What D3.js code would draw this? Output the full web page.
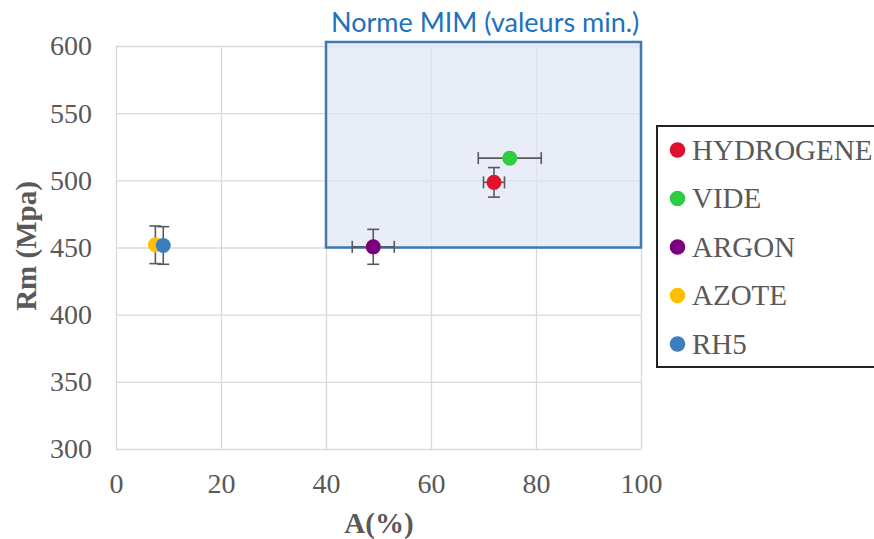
<!DOCTYPE html>
<html><head><meta charset="utf-8">
<script src="https://cdn.jsdelivr.net/npm/d3@7"></script>
<style>body{margin:0;background:#fff}svg{display:block}</style>
</head><body>
<svg id="c" width="874" height="539"></svg>
<script>
const series = ["HYDROGENE","VIDE","ARGON","AZOTE","RH5"];
const colors = ["#e0102f","#2ecc40","#7a0080","#ffc000","#3b7dbd"];
const xVals = [72, 75, 49, 7.5, 9];
const yVals = [498.5, 516.5, 450.5, 452, 451.5];
const xErr = [2, 6, 4, 0, 0];
const yErr = [11, 0, 13, 14, 14];
const xTicks = [0,20,40,60,80,100];
const yTicks = [300,350,400,450,500,550,600];
const normeX = [40, 100];
const normeY = [450, 603];
const normeLabel = "Norme MIM (valeurs min.)";
const xTitle = "A(%)", yTitle = "Rm (Mpa)";

const svg = d3.select("#c");
const x = d3.scaleLinear().domain([0,100]).range([116,641]);
const y = d3.scaleLinear().domain([300,600]).range([449,46]);
const grid = "#d9d9d9", txt = "#595959";
const serif = "'Liberation Serif','Times New Roman',serif";

// gridlines
svg.append("g").attr("transform","translate(0,449)")
  .call(d3.axisBottom(x).tickValues(xTicks).tickSize(-(449-46)).tickFormat(""))
  .call(g=>{g.select(".domain").remove();g.selectAll("line").attr("stroke",grid).attr("stroke-width",1.3);});
svg.append("g").attr("transform","translate(116,0)")
  .call(d3.axisLeft(y).tickValues(yTicks).tickSize(-(641-116)).tickFormat(""))
  .call(g=>{g.select(".domain").remove();g.selectAll("line").attr("stroke",grid).attr("stroke-width",1.3);});

// norme box
svg.append("rect").attr("x",x(normeX[0])).attr("y",y(normeY[1]))
  .attr("width",x(normeX[1])-x(normeX[0])).attr("height",y(normeY[0])-y(normeY[1]))
  .attr("fill","#dfe5f3").attr("fill-opacity",0.7).attr("stroke","#3f79b0").attr("stroke-width",2.5);
svg.append("text").attr("x",x(normeX[0])+5).attr("y",y(normeY[1])-10)
  .attr("font-family","Lato, 'Open Sans', sans-serif").attr("font-size",27).attr("fill","#2271bd")
  .text(normeLabel);

// axis tick labels
svg.append("g").attr("transform","translate(0,449)")
  .call(d3.axisBottom(x).tickValues(xTicks).tickSize(0).tickPadding(24))
  .call(g=>{g.select(".domain").remove();g.selectAll("text").attr("font-family",serif).attr("font-size",28).attr("fill",txt);});
svg.append("g").attr("transform","translate(116,0)")
  .call(d3.axisLeft(y).tickValues(yTicks).tickSize(0).tickPadding(24))
  .call(g=>{g.select(".domain").remove();g.selectAll("text").attr("font-family",serif).attr("font-size",28).attr("fill",txt);});

svg.append("text").attr("x",379).attr("y",533).attr("text-anchor","middle")
  .attr("font-family",serif).attr("font-weight","bold").attr("font-size",29).attr("fill",txt).text(xTitle);
svg.append("text").attr("transform","translate(36,246) rotate(-90)").attr("text-anchor","middle")
  .attr("font-family",serif).attr("font-weight","bold").attr("font-size",29).attr("fill",txt).text(yTitle);

// error bars
const eb = svg.append("g").attr("stroke","#595959").attr("stroke-width",1.6);
const cap = 6;
series.forEach((s,i)=>{
  const cx=x(xVals[i]), cy=y(yVals[i]);
  if(yErr[i]>0){
    const y1=y(yVals[i]+yErr[i]), y2=y(yVals[i]-yErr[i]);
    eb.append("line").attr("x1",cx).attr("x2",cx).attr("y1",y1).attr("y2",y2);
    eb.append("line").attr("x1",cx-cap).attr("x2",cx+cap).attr("y1",y1).attr("y2",y1);
    eb.append("line").attr("x1",cx-cap).attr("x2",cx+cap).attr("y1",y2).attr("y2",y2);
  }
  if(xErr[i]>0){
    const x1=x(xVals[i]-xErr[i]), x2=x(xVals[i]+xErr[i]);
    eb.append("line").attr("x1",x1).attr("x2",x2).attr("y1",cy).attr("y2",cy);
    eb.append("line").attr("x1",x1).attr("x2",x1).attr("y1",cy-cap).attr("y2",cy+cap);
    eb.append("line").attr("x1",x2).attr("x2",x2).attr("y1",cy-cap).attr("y2",cy+cap);
  }
});
// points
svg.append("g").selectAll("circle").data(series).join("circle")
  .attr("cx",(d,i)=>x(xVals[i])).attr("cy",(d,i)=>y(yVals[i])).attr("r",7.5)
  .attr("fill",(d,i)=>colors[i]);

// legend
const lg = svg.append("g");
lg.append("rect").attr("x",657).attr("y",126).attr("width",230).attr("height",241)
  .attr("fill","#fff").attr("stroke","#222").attr("stroke-width",2);
series.forEach((s,i)=>{
  const ly = 150 + i*48.5;
  lg.append("circle").attr("cx",677.5).attr("cy",ly).attr("r",7.8).attr("fill",colors[i]);
  lg.append("text").attr("x",692).attr("y",ly+9.5).attr("font-family",serif).attr("font-size",29)
    .attr("fill",txt).text(s);
});
</script>
</body></html>
